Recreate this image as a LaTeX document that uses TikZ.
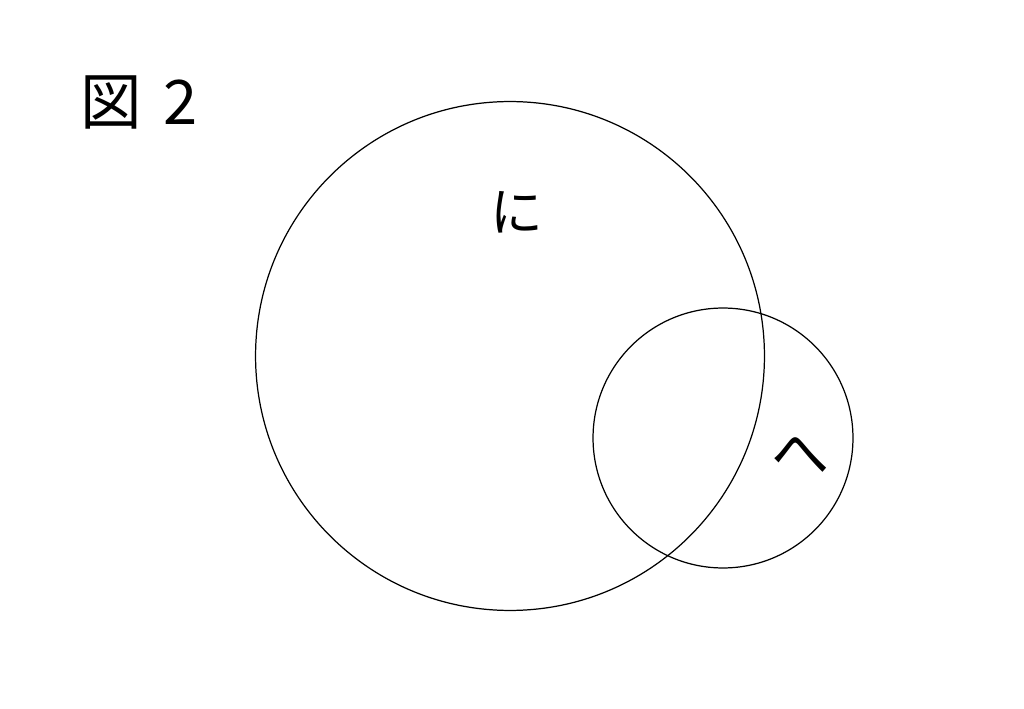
\documentclass[tikz,border=0pt]{standalone}
\usepackage{fontspec}
\newfontfamily\jpfont{Noto Sans CJK JP}
\usepackage{tikz}

\begin{document}
\begin{tikzpicture}[
		x=0.02cm, y=-0.02cm,
		every node/.style={inner sep=0pt, outer sep=0pt},
		set/.style={circle, draw, line width=0.7pt},
		kana/.style={font=\jpfont\fontsize{30}{36}\selectfont}
	]
  \useasboundingbox (0,0) rectangle (1024,709);
  \node (title) [font=\jpfont\fontsize{35}{40}\selectfont, anchor=west] at (80,102) {図\hspace{0.45cm}2};
  \node (ni_set) [set, minimum size=10.18cm] at (510,356) {};
  \node (he_set) [set, minimum size=5.2cm] at (723,438) {};
  \node (ni) [kana] at (517,212) {に};
  \node (he) [kana, scale=1.1] at (800,455) {へ};
\end{tikzpicture}
\end{document}
